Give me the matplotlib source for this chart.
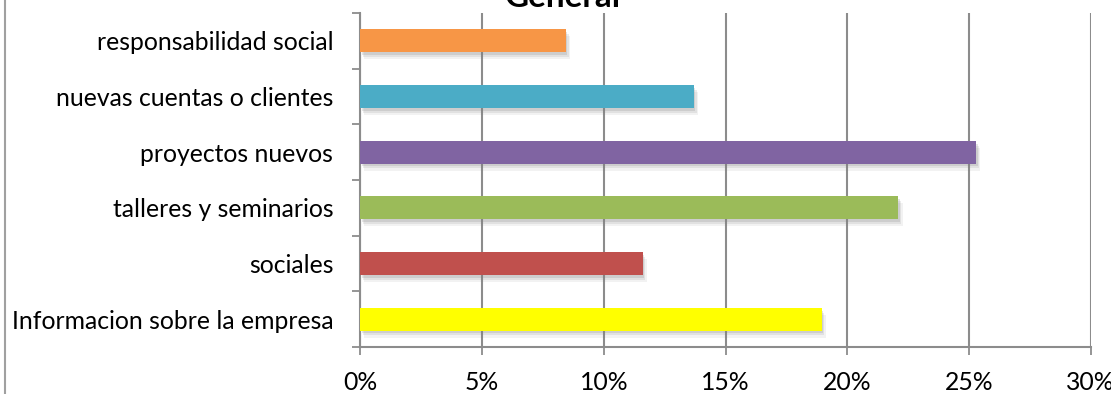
import matplotlib
matplotlib.use("Agg")
import matplotlib.pyplot as plt
from matplotlib.ticker import FuncFormatter
from matplotlib.lines import Line2D
import matplotlib.patheffects as pe

categories = ["Informacion sobre la empresa", "sociales", "talleres y seminarios",
              "proyectos nuevos", "nuevas cuentas o clientes", "responsabilidad social"]
values = [0.1895, 0.116, 0.221, 0.253, 0.137, 0.0845]
colors = ["#FFFF00", "#C0504D", "#9BBB59", "#8064A2", "#4BACC6", "#F79646"]
xticks = [0, 0.05, 0.10, 0.15, 0.20, 0.25, 0.30]
title = "General"

plt.rcParams['font.family'] = ['Lato', 'DejaVu Sans']

fig = plt.figure(figsize=(11.11, 3.94), dpi=100)
ax = fig.add_axes([360.3 / 1111, 1 - 347 / 394, (1090.7 - 360.3) / 1111, (347 - 13) / 394])

grid_c = "#8C8C8C"
ypos = list(range(len(categories)))
bars = ax.barh(ypos, values, height=0.41, color=colors, zorder=3)
for b in bars:
    b.set_path_effects([
        pe.SimplePatchShadow(offset=(3, -5), shadow_rgbFace="#808080", alpha=0.10),
        pe.SimplePatchShadow(offset=(2, -3.5), shadow_rgbFace="#808080", alpha=0.15),
        pe.SimplePatchShadow(offset=(1, -2), shadow_rgbFace="#808080", alpha=0.20),
        pe.Normal()])

ax.set_xlim(0, 0.30)
ax.set_ylim(-0.5, len(categories) - 0.5)
ax.set_xticks(xticks)
ax.xaxis.set_major_formatter(FuncFormatter(lambda v, p: f"{v*100:.0f}%"))
ax.set_yticks(ypos)
ax.set_yticklabels(categories)
ax.set_yticks([i - 0.5 for i in range(len(categories) + 1)], minor=True)
ax.tick_params(axis='y', which='major', length=0, pad=19.5, labelsize=17.85)
ax.tick_params(axis='y', which='minor', length=6, width=1.3, color=grid_c, direction='out')
ax.tick_params(axis='x', length=6, width=1.3, color=grid_c, labelsize=17.85, pad=11)
ax.grid(axis='x', color=grid_c, linewidth=1.5, zorder=0)
for s in ['top', 'right']:
    ax.spines[s].set_visible(False)
for s in ['left', 'bottom']:
    ax.spines[s].set_color(grid_c)
    ax.spines[s].set_linewidth(1.5)
ax.set_axisbelow(True)

fig.text(563 / 1111, 1 - 7 / 394, title, ha='center', va='baseline',
         fontsize=24, fontweight='bold')
fig.add_artist(Line2D([5 / 1111, 5 / 1111], [0, 1], color="#A0A0A0", linewidth=1.5))

fig.savefig("out.png", dpi=100)
